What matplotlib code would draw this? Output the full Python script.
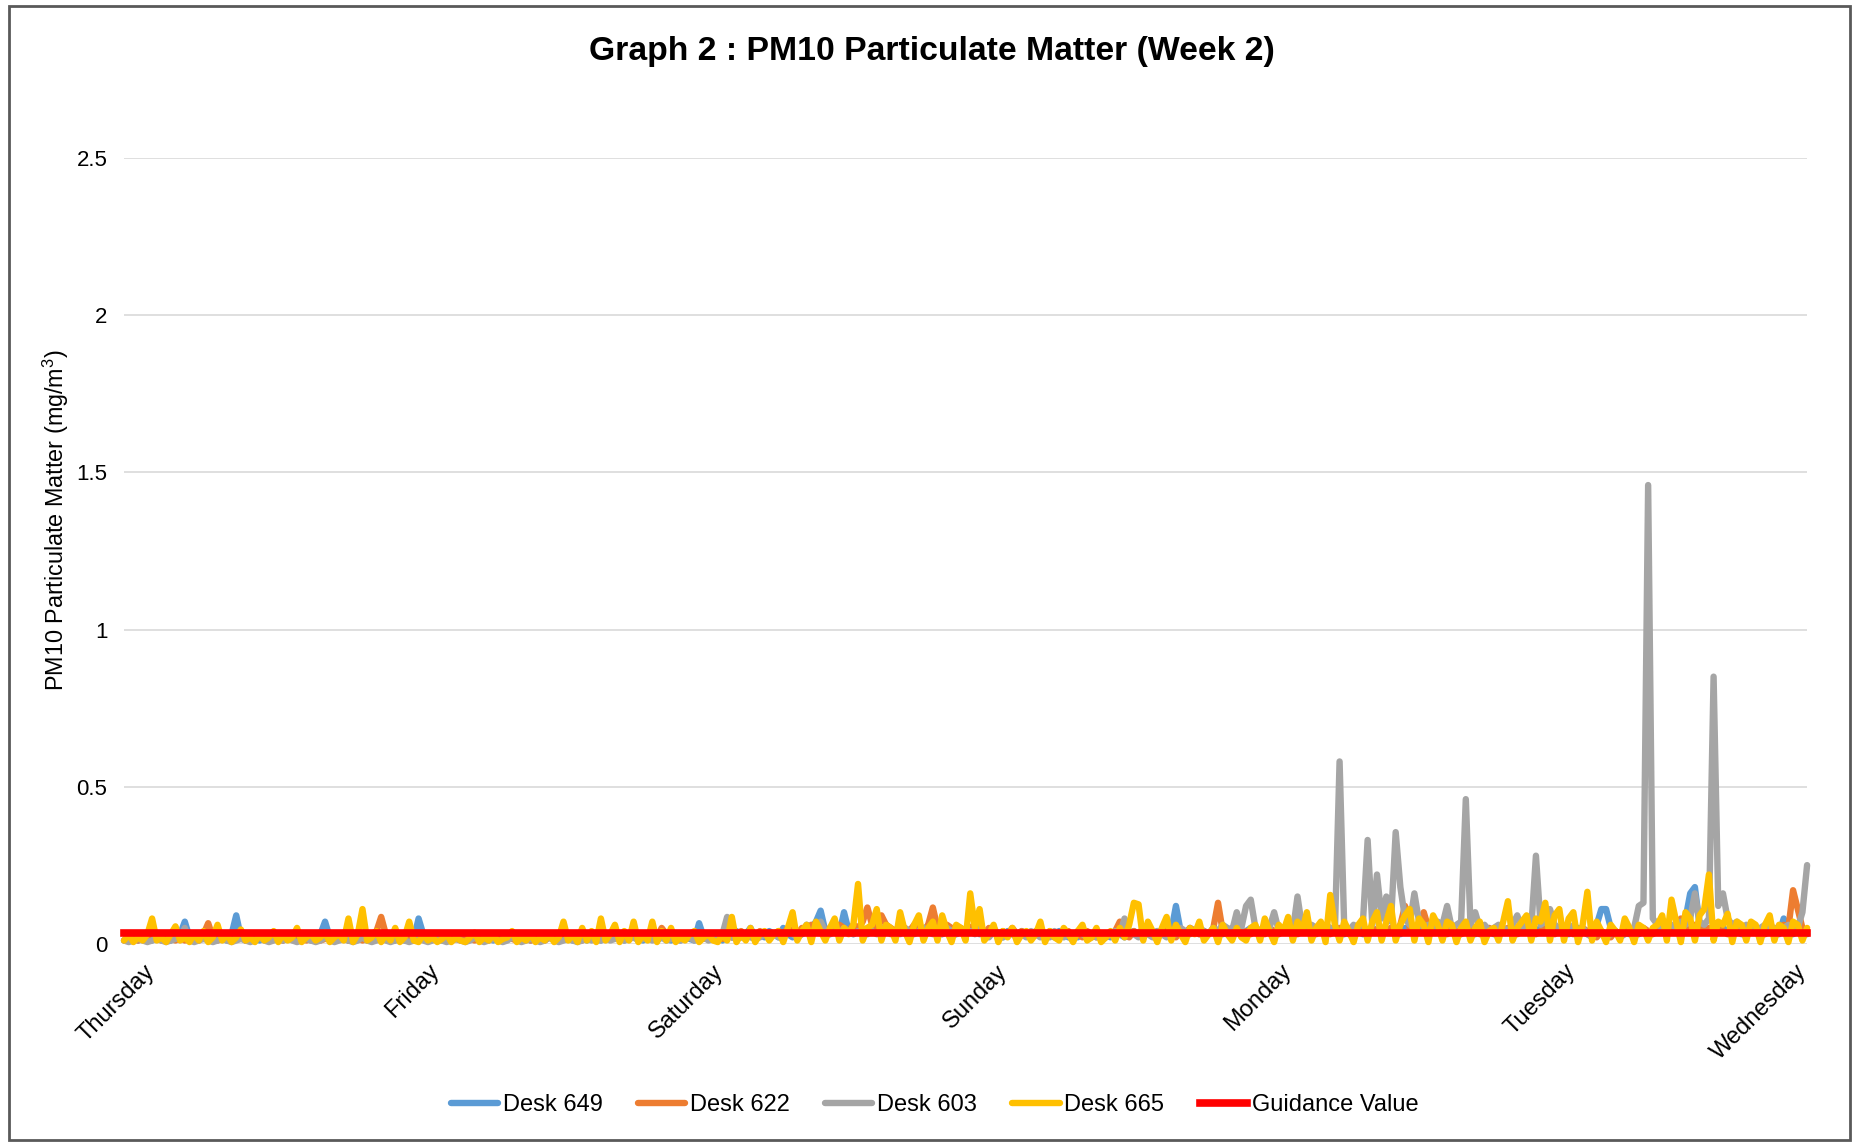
# PM10 particulate matter, week 2 - four desk sensors vs guidance value
import numpy as np
import matplotlib.pyplot as plt
from matplotlib.patches import Rectangle
from matplotlib.transforms import ScaledTranslation

plt.rcParams['font.family'] = ['Liberation Sans', 'DejaVu Sans']
plt.rcParams['mathtext.fontset'] = 'custom'
plt.rcParams['mathtext.rm'] = 'Liberation Sans'
plt.rcParams['mathtext.it'] = 'Liberation Sans'

# data (mg/m3), 60 readings per day
per_day = 60
day_labels = ['Thursday', 'Friday', 'Saturday', 'Sunday', 'Monday', 'Tuesday', 'Wednesday']

desk_649 = [
    .01,.02,.015,.01,.02,.03,.01,.02,.015,.02,.01,.02,.03,.07,.02,.01,.015,.02,.03,.01,.02,.015,.01,.03,.09,.02,.01,.02,.015,.01,
    .02,.01,.015,.02,.01,.02,.03,.01,.02,.015,.01,.02,.03,.07,.02,.01,.02,.015,.01,.02,.03,.02,.01,.015,.02,.01,.02,.03,.01,.02,
    .01,.02,.015,.08,.03,.01,.02,.015,.01,.02,.01,.015,.02,.01,.015,.02,.01,.02,.015,.01,.02,.01,.015,.02,.01,.03,.015,.01,.02,.01,
    .015,.02,.01,.03,.02,.015,.01,.02,.03,.01,.02,.015,.01,.02,.03,.04,.02,.01,.02,.03,.015,.01,.02,.03,.01,.02,.015,.01,.02,.01,
    .02,.015,.01,.065,.02,.03,.015,.02,.01,.03,.02,.04,.02,.03,.05,.02,.03,.02,.04,.03,.02,.05,.03,.02,.04,.03,.06,.05,.07,.105,
    .04,.03,.05,.03,.10,.04,.03,.05,.04,.03,.06,.04,.03,.06,.04,.03,.05,.04,.03,.05,.04,.03,.06,.04,.05,.03,.04,.05,.03,.04,
    .03,.04,.05,.03,.04,.03,.05,.03,.02,.04,.03,.02,.04,.03,.02,.03,.04,.02,.03,.02,.04,.03,.02,.03,.02,.04,.03,.02,.03,.02,
    .03,.02,.04,.03,.02,.03,.04,.03,.05,.04,.03,.04,.03,.05,.04,.12,.04,.03,.05,.04,.03,.04,.03,.05,.04,.03,.04,.05,.04,.03,
    .04,.05,.04,.03,.05,.04,.03,.04,.05,.04,.03,.04,.05,.04,.03,.05,.04,.03,.04,.05,.04,.03,.04,.05,.04,.03,.04,.05,.04,.03,
    .04,.05,.04,.03,.05,.04,.03,.04,.05,.04,.06,.04,.03,.05,.04,.03,.04,.05,.04,.03,.04,.05,.04,.03,.04,.05,.04,.03,.04,.05,
    .04,.03,.04,.05,.04,.03,.04,.05,.04,.03,.04,.05,.04,.03,.05,.06,.11,.11,.05,.04,.03,.04,.03,.04,.03,.04,.03,.04,.05,.04,
    .04,.05,.04,.06,.08,.16,.18,.06,.05,.04,.05,.06,.05,.04,.05,.04,.03,.04,.05,.04,.03,.04,.05,.04,.03,.08,.04,.03,.04,.03,
    .03]

desk_622 = [
    .01,.015,.02,.01,.015,.01,.02,.015,.01,.02,.015,.01,.02,.01,.015,.02,.01,.03,.065,.02,.01,.015,.02,.01,.015,.02,.01,.015,.01,.02,
    .015,.01,.02,.015,.01,.02,.015,.01,.02,.01,.015,.02,.01,.015,.02,.01,.015,.02,.01,.015,.02,.01,.015,.03,.04,.085,.03,.02,.015,.01,
    .02,.015,.01,.02,.015,.01,.02,.03,.015,.01,.02,.015,.01,.02,.015,.01,.02,.015,.01,.02,.015,.01,.02,.015,.01,.02,.015,.01,.02,.015,
    .01,.02,.015,.01,.02,.03,.015,.02,.01,.03,.02,.015,.03,.02,.015,.04,.02,.03,.015,.02,.03,.02,.015,.03,.02,.05,.03,.02,.015,.02,
    .015,.02,.03,.02,.015,.02,.03,.02,.015,.03,.02,.03,.04,.02,.03,.02,.04,.03,.02,.03,.04,.03,.05,.04,.03,.05,.04,.06,.04,.05,
    .04,.05,.04,.06,.05,.04,.06,.05,.07,.115,.06,.05,.09,.06,.05,.04,.06,.05,.04,.06,.05,.04,.06,.115,.05,.04,.06,.05,.04,.05,
    .04,.05,.06,.04,.03,.05,.04,.03,.04,.03,.05,.03,.04,.03,.02,.04,.03,.02,.04,.03,.02,.03,.04,.02,.03,.02,.04,.03,.02,.03,
    .02,.03,.04,.07,.03,.02,.04,.03,.02,.04,.03,.02,.03,.04,.03,.02,.04,.03,.05,.04,.03,.04,.03,.05,.13,.04,.03,.04,.05,.03,
    .04,.03,.05,.04,.03,.05,.04,.03,.04,.05,.04,.03,.04,.05,.04,.03,.05,.04,.03,.04,.05,.04,.03,.04,.05,.04,.03,.05,.04,.03,
    .04,.05,.04,.06,.12,.05,.04,.06,.10,.05,.04,.05,.04,.03,.05,.04,.03,.04,.05,.04,.03,.04,.05,.04,.03,.04,.05,.04,.03,.04,
    .05,.04,.03,.04,.05,.04,.03,.04,.05,.04,.03,.04,.05,.04,.03,.02,.04,.03,.02,.04,.03,.05,.04,.03,.04,.05,.04,.03,.04,.05,
    .04,.05,.06,.08,.05,.04,.06,.05,.04,.05,.04,.05,.04,.03,.04,.05,.04,.03,.04,.05,.04,.03,.04,.05,.04,.06,.05,.17,.11,.05,
    .04]

desk_603 = [
    .01,.005,.01,.015,.01,.005,.01,.02,.01,.005,.01,.015,.02,.05,.01,.005,.01,.015,.01,.005,.01,.02,.01,.005,.01,.015,.01,.005,.01,.02,
    .01,.005,.01,.015,.01,.02,.01,.005,.01,.015,.01,.005,.01,.02,.01,.005,.01,.015,.01,.005,.01,.02,.01,.005,.01,.015,.01,.005,.01,.015,
    .01,.005,.01,.015,.01,.005,.01,.02,.01,.005,.01,.015,.01,.005,.01,.02,.01,.005,.01,.015,.01,.005,.01,.02,.01,.005,.01,.015,.01,.005,
    .01,.02,.01,.005,.01,.015,.01,.005,.01,.02,.01,.015,.01,.02,.01,.015,.02,.01,.015,.02,.01,.015,.02,.01,.015,.02,.01,.015,.02,.01,
    .015,.02,.01,.015,.02,.01,.015,.02,.03,.085,.02,.015,.02,.03,.02,.015,.02,.03,.02,.03,.02,.03,.04,.03,.02,.03,.04,.03,.04,.07,
    .04,.03,.04,.03,.05,.04,.03,.04,.03,.05,.04,.03,.04,.05,.03,.04,.03,.05,.04,.03,.04,.05,.04,.03,.04,.03,.05,.04,.03,.04,
    .03,.04,.03,.05,.03,.02,.04,.03,.02,.03,.04,.02,.03,.02,.04,.03,.02,.03,.02,.04,.03,.02,.03,.02,.04,.03,.02,.03,.02,.03,
    .02,.03,.04,.03,.08,.04,.03,.02,.04,.03,.02,.04,.03,.02,.04,.03,.05,.04,.03,.04,.05,.04,.03,.05,.04,.06,.05,.04,.10,.05,
    .12,.14,.05,.04,.06,.05,.10,.04,.05,.06,.04,.15,.05,.04,.06,.05,.04,.06,.05,.04,.58,.05,.04,.06,.05,.07,.33,.06,.22,.08,
    .15,.07,.355,.18,.08,.06,.16,.07,.05,.06,.05,.07,.06,.12,.05,.06,.07,.46,.06,.10,.05,.06,.04,.05,.06,.05,.04,.06,.09,.05,
    .06,.05,.28,.06,.07,.11,.06,.05,.04,.06,.05,.04,.05,.03,.02,.04,.03,.02,.03,.04,.02,.03,.04,.05,.12,.13,1.46,.08,.06,.05,
    .05,.06,.05,.07,.06,.08,.16,.07,.06,.08,.85,.12,.16,.08,.06,.07,.05,.06,.05,.04,.05,.06,.04,.05,.04,.05,.06,.04,.05,.10,
    .25]

desk_665 = [
    .01,.03,.005,.02,.01,.03,.08,.01,.02,.005,.03,.055,.01,.02,.005,.03,.01,.04,.005,.02,.06,.01,.03,.005,.02,.045,.01,.02,.005,.03,
    .01,.02,.04,.005,.03,.01,.02,.05,.005,.02,.03,.01,.02,.035,.005,.02,.03,.01,.08,.005,.03,.11,.01,.02,.04,.005,.03,.01,.05,.005,
    .02,.07,.01,.005,.03,.01,.02,.005,.015,.03,.005,.02,.01,.005,.02,.035,.005,.02,.01,.03,.005,.015,.02,.04,.005,.02,.01,.03,.005,.02,
    .01,.03,.005,.02,.07,.01,.03,.005,.05,.01,.04,.005,.08,.01,.03,.06,.005,.04,.01,.07,.005,.03,.01,.07,.005,.04,.01,.05,.005,.02,
    .01,.03,.04,.005,.02,.03,.01,.005,.03,.01,.085,.005,.03,.01,.05,.005,.03,.04,.01,.03,.04,.005,.05,.10,.01,.04,.06,.005,.07,.04,
    .01,.05,.08,.01,.05,.03,.06,.19,.01,.05,.06,.11,.01,.06,.05,.01,.10,.04,.005,.06,.09,.01,.05,.07,.01,.09,.04,.005,.06,.05,
    .01,.16,.05,.11,.01,.03,.06,.005,.04,.02,.05,.005,.03,.04,.01,.03,.07,.005,.04,.02,.01,.05,.03,.005,.04,.06,.01,.02,.05,.005,
    .02,.04,.01,.05,.02,.06,.13,.125,.01,.07,.04,.005,.05,.085,.01,.06,.03,.005,.05,.03,.07,.01,.03,.05,.005,.06,.03,.01,.05,.02,
    .01,.05,.06,.01,.08,.04,.005,.06,.04,.085,.01,.07,.04,.10,.01,.05,.07,.005,.155,.06,.01,.07,.04,.005,.06,.08,.01,.07,.10,.01,
    .07,.12,.01,.06,.09,.11,.01,.08,.06,.005,.09,.06,.01,.07,.06,.005,.05,.07,.01,.05,.07,.005,.04,.05,.01,.07,.135,.01,.05,.07,
    .09,.01,.08,.07,.13,.01,.09,.11,.01,.08,.10,.005,.06,.165,.01,.07,.04,.005,.06,.04,.01,.08,.05,.005,.06,.05,.01,.05,.06,.09,
    .01,.14,.07,.005,.10,.08,.01,.09,.11,.22,.01,.07,.06,.095,.005,.07,.06,.01,.07,.06,.005,.06,.09,.01,.06,.05,.005,.07,.06,.01,
    .05]

guidance = 0.035

series = [('Desk 649', desk_649, '#5B9BD5'),
          ('Desk 622', desk_622, '#ED7D31'),
          ('Desk 603', desk_603, '#A5A5A5'),
          ('Desk 665', desk_665, '#FFC000')]

fig = plt.figure(figsize=(18.54, 11.42), dpi=100)
ax = fig.add_axes([0.0669, 0.1737, 0.9078, 0.6876])

for name, vals, col in series:
    t = np.arange(len(vals)) / per_day
    ax.plot(t, vals, color=col, lw=4.6, label=name, solid_joinstyle='round',
            solid_capstyle='round', clip_on=False, zorder=3)

n_days = len(day_labels) - 1
ax.plot([0, n_days], [guidance, guidance], color='#FF0000', lw=5.5, label='Guidance Value',
        clip_on=False, zorder=4)

ax.set_xlim(0, n_days)
ax.set_ylim(0, 2.5)
ax.set_yticks([0, 0.5, 1, 1.5, 2, 2.5])
ax.set_yticklabels(['0', '0.5', '1', '1.5', '2', '2.5'], fontsize=16)
ax.set_xticks(range(len(day_labels)))
ax.set_xticklabels(day_labels, rotation=45, ha='right', rotation_mode='anchor', fontsize=17)
ax.tick_params(length=0, pad=12)
ax.grid(axis='y', color='#D9D9D9', lw=1.2)
ax.set_axisbelow(True)
for s in ax.spines.values():
    s.set_visible(False)

# push the day labels to the right of their ticks as Excel does
for k, lab in enumerate(ax.get_xticklabels()):
    dx = (20 + 3.5 * k) / 100 if k < n_days else -0.12
    lab.set_transform(lab.get_transform() + ScaledTranslation(dx, 0, fig.dpi_scale_trans))

fig.text(0.030, 0.545, 'PM10 Particulate Matter (mg/m$^3$)', rotation=90, fontsize=16.8,
         ha='center', va='center')
fig.text(0.5027, 0.955, 'Graph 2 : PM10 Particulate Matter (Week 2)', fontsize=24.3,
         fontweight='bold', ha='center', va='center')

fig.legend(loc='center', bbox_to_anchor=(0.504, 0.032), ncol=5, frameon=False, fontsize=17,
           handlelength=2.0, handletextpad=0.2, columnspacing=1.5)

fig.patches.append(Rectangle((0.005, 0.002), 0.993, 0.993, transform=fig.transFigure,
                             fill=False, edgecolor='#595959', lw=2))

fig.savefig('out.png', dpi=100)
